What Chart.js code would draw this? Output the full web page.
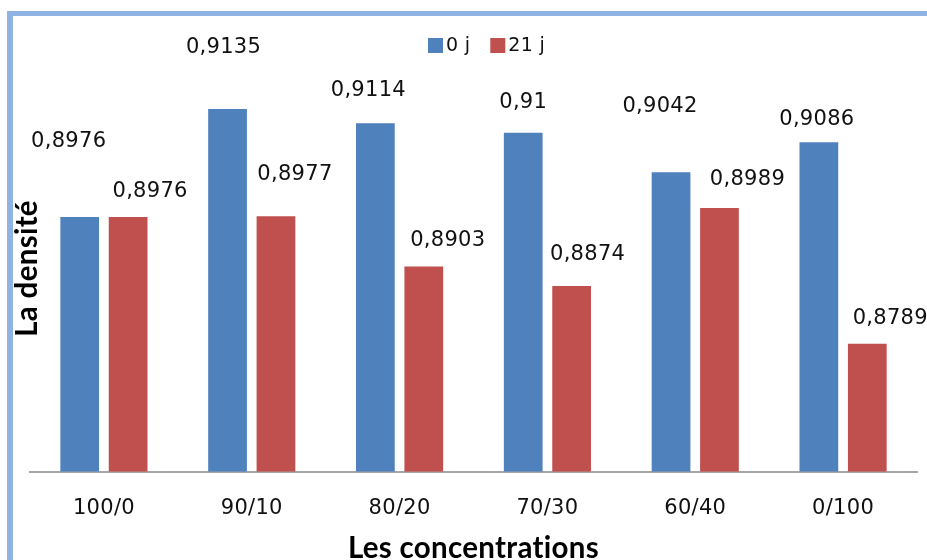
<!DOCTYPE html>
<html>
<head>
<meta charset="utf-8">
<script src="https://cdn.jsdelivr.net/npm/chart.js@4.4.0/dist/chart.umd.min.js"></script>
<style>
  html, body { margin: 0; padding: 0; background: #ffffff; }
  #wrap { width: 927px; height: 560px; }
</style>
</head>
<body>
<div id="wrap"><canvas id="chart" width="927" height="560"></canvas></div>
<script>
// Density of the blends, measured at day 0 and day 21
const categories = ['100/0', '90/10', '80/20', '70/30', '60/40', '0/100'];
const seriesNames = ['0 j', '21 j'];
const density0j = [0.8976, 0.9135, 0.9114, 0.91, 0.9042, 0.9086];
const density21j = [0.8976, 0.8977, 0.8903, 0.8874, 0.8989, 0.8789];
const yMin = 0.86;
const yMax = 0.92;

// Hand-placed value labels: offset (px) of each label centre from its bar top
const labelOffsets0j = [[-11, -75], [-4, -62], [-7, -33], [0, -30], [-11, -66], [-2, -23]];
const labelOffsets21j = [[22, -25], [19, -42], [24, -26], [16, -32], [28, -29], [23, -25]];

const BLUE = '#4f81bd';
const RED = '#c0504d';
const FRAME = '#8fb4e3';
const VALUE_FONT = '21px "DejaVu Sans", Verdana, sans-serif';
const TITLE_FONT = 'bold 29.5px Lato, "Open Sans", sans-serif';

const fmt = v => String(v).replace('.', ',');

const decorations = {
  id: 'decorations',
  beforeDraw(chart) {
    const ctx = chart.ctx;
    ctx.save();
    ctx.fillStyle = '#ffffff';
    ctx.fillRect(0, 0, chart.width, chart.height);
    // chart frame (top and left edges)
    ctx.fillStyle = FRAME;
    ctx.fillRect(7, 11, chart.width - 7, 5);
    ctx.fillRect(7, 11, 6, chart.height - 11);
    ctx.restore();
    // a touch of tracking keeps letter pairs such as "ti" unligated
    ctx.letterSpacing = '0.3px';
  },
  afterDatasetsDraw(chart) {
    const ctx = chart.ctx;
    const offsets = [labelOffsets0j, labelOffsets21j];
    ctx.save();
    ctx.font = VALUE_FONT;
    ctx.fillStyle = '#111111';
    ctx.textAlign = 'center';
    ctx.textBaseline = 'middle';
    chart.data.datasets.forEach((ds, di) => {
      const meta = chart.getDatasetMeta(di);
      meta.data.forEach((bar, i) => {
        const [dx, dy] = offsets[di][i];
        ctx.fillText(fmt(ds.data[i]), bar.x + dx, bar.y + dy);
      });
    });

    // legend
    ctx.font = '19px "DejaVu Sans", Verdana, sans-serif';
    ctx.textAlign = 'left';
    let x = 428;
    const ly = 46;
    chart.data.datasets.forEach(ds => {
      ctx.fillStyle = ds.backgroundColor;
      ctx.fillRect(x, ly - 8, 15, 15);
      ctx.fillStyle = '#111111';
      ctx.fillText(ds.label, x + 18, ly);
      x += 18 + ctx.measureText(ds.label).width + 20;
    });

    // vertical axis title
    const area = chart.chartArea;
    ctx.translate(27, (area.top + area.bottom) / 2);
    ctx.rotate(-Math.PI / 2);
    ctx.font = TITLE_FONT;
    ctx.textAlign = 'center';
    ctx.fillStyle = '#000000';
    ctx.fillText('La densité', 0, 0);
    ctx.restore();
  },
  afterDraw(chart) {
    chart.ctx.letterSpacing = '0px';
  }
};

new Chart(document.getElementById('chart'), {
  type: 'bar',
  data: {
    labels: categories,
    datasets: [
      { label: seriesNames[0], data: density0j, backgroundColor: BLUE, base: yMin },
      { label: seriesNames[1], data: density21j, backgroundColor: RED, base: yMin }
    ]
  },
  options: {
    responsive: false,
    devicePixelRatio: 1,
    animation: false,
    layout: { padding: { left: 30, right: 10, top: 65, bottom: 0 } },
    datasets: { bar: { categoryPercentage: 0.655, barPercentage: 0.8 } },
    plugins: { legend: { display: false }, tooltip: { enabled: false } },
    scales: {
      x: {
        grid: { display: false, drawTicks: false },
        border: { display: true, color: '#a6a6a6', width: 2 },
        ticks: { color: '#111111', padding: 25, font: { family: '"DejaVu Sans", Verdana, sans-serif', size: 21, lineHeight: 1.15 } },
        title: {
          display: true,
          text: 'Les concentrations',
          color: '#000000',
          font: { family: 'Lato, "Open Sans", sans-serif', size: 29.5, weight: 'bold', lineHeight: 1 },
          padding: { top: -12, bottom: -3.5 }
        }
      },
      y: { display: false, min: yMin, max: yMax }
    }
  },
  plugins: [decorations]
});
</script>
</body>
</html>
